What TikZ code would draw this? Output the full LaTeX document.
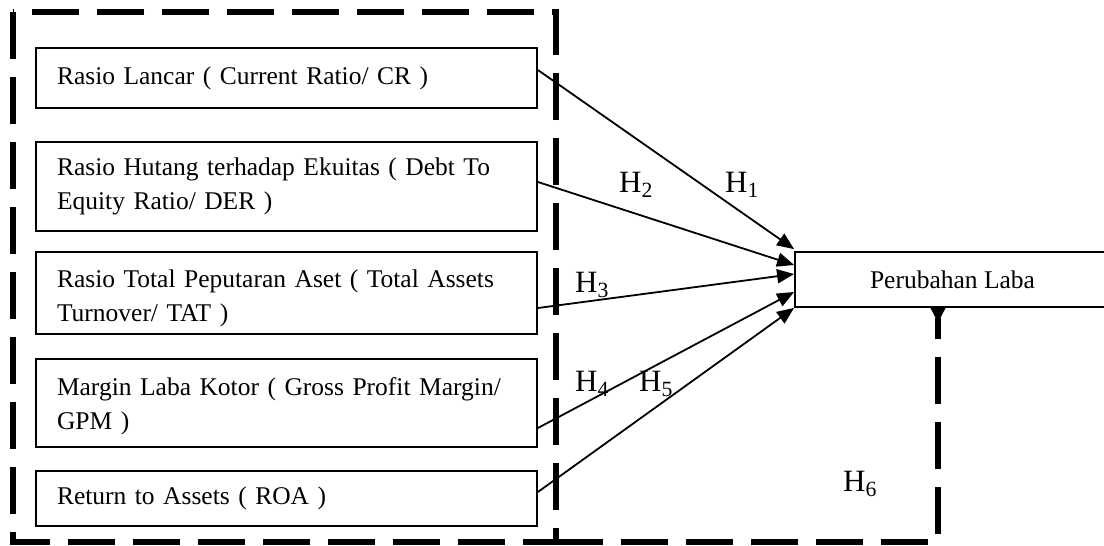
\documentclass[tikz,border=0pt]{standalone}
\usepackage{fontspec}
\setmainfont{Liberation Serif}
\usetikzlibrary{arrows.meta}
\begin{document}
\begin{tikzpicture}[x=1pt,y=-1pt,
  varbox/.style={draw,line width=1.8pt,inner xsep=21pt,inner ysep=0pt,text width=459pt,align=left,
    font=\fontsize{25.5pt}{34pt}\selectfont},
  lower/.style={execute at begin node={\rule{0pt}{#1}}},
  depbox/.style={draw,line width=1.8pt,minimum width=315pt,minimum height=55pt,inner sep=0pt,
    font=\fontsize{25.5pt}{34pt}\selectfont},
  hlab/.style={anchor=base west,inner sep=0pt,font=\fontsize{31pt}{36pt}\selectfont},
  conn/.style={line width=1.8pt,-{Triangle[length=17pt,width=14pt]}},
  frame/.style={line width=5.5pt,dash pattern=on 47pt off 18pt}]
\useasboundingbox (0,0) rectangle (1104,546);
% independent variables
\node[varbox,minimum height=60pt] (b1) at (286.5,78) {Rasio Lancar ( Current Ratio/ CR )};
\node[varbox,minimum height=89pt] (b2) at (286.5,186.5) {Rasio Hutang terhadap Ekuitas ( Debt To\\Equity Ratio/ DER )};
\node[varbox,minimum height=82pt,lower=28pt] (b3) at (286.5,293) {Rasio Total Peputaran Aset ( Total Assets\\Turnover/ TAT )};
\node[varbox,minimum height=88pt,lower=25pt] (b4) at (286.5,403) {Margin Laba Kotor ( Gross Profit Margin/\\GPM )};
\node[varbox,minimum height=55pt] (b5) at (286.5,498.5) {Return to Assets ( ROA )};
% dependent variable
\node[depbox] (t) at (952.5,279.5) {Perubahan Laba};
% dashed frame
\draw[frame] (13,12) rectangle (556,542);
\coordinate (fc) at (556,542);
\coordinate (c6) at (938,542);
\draw[frame,-{Triangle[reversed,length=15pt,width=14pt]}] (fc) -- (c6) -- (c6 |- t.south);
% connectors
\draw[conn] ([yshift=8pt]b1.east) -- ([yshift=2pt]t.north west);
\draw[conn] ([yshift=4.5pt]b2.east) -- ([yshift=14.5pt]t.west);
\draw[conn] ([yshift=-15pt]b3.east) -- ([yshift=5.5pt]t.west);
\draw[conn] ([yshift=-25pt]b4.east) -- ([yshift=-12.5pt]t.west);
\draw[conn] ([yshift=6.5pt]b5.east) -- (t.south west);
% labels
\node[hlab] (h1) at (725,192) {H\textsubscript{1}};
\node[hlab] (h2) at (619,192) {H\textsubscript{2}};
\node[hlab] (h3) at (575,292) {H\textsubscript{3}};
\node[hlab] (h4) at (575,391) {H\textsubscript{4}};
\node[hlab] (h5) at (639,391) {H\textsubscript{5}};
\node[hlab] (h6) at (843,491) {H\textsubscript{6}};
\end{tikzpicture}
\end{document}
